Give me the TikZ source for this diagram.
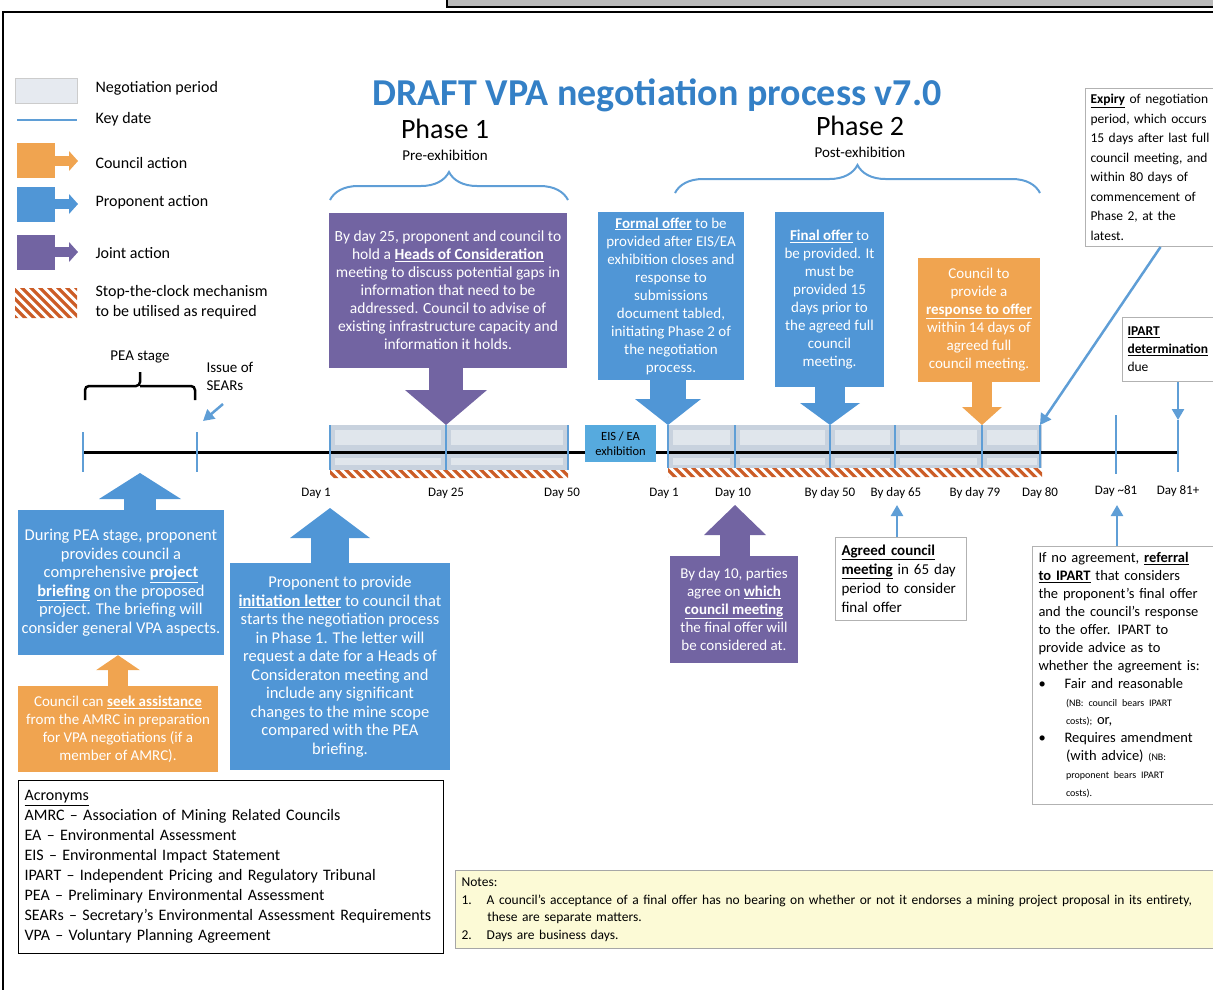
\documentclass[tikz,border=0pt]{standalone}
\usepackage{fontspec}
\setmainfont{Carlito}
\usetikzlibrary{arrows.meta, decorations.pathreplacing}

\definecolor{councilorange}{RGB}{240,164,80}
\definecolor{proponentblue}{RGB}{80,150,214}
\definecolor{jointpurple}{RGB}{114,100,162}
\definecolor{keyblue}{RGB}{95,158,214}
\definecolor{titleblue}{RGB}{52,128,198}
\definecolor{bandgrey}{RGB}{200,210,222}
\definecolor{neggrey}{RGB}{230,234,240}
\definecolor{hatchorange}{RGB}{204,92,38}
\definecolor{notesyellow}{RGB}{252,250,214}
\definecolor{exhibblue}{RGB}{86,170,222}

\tikzset{
  actionbox/.style={text=white, align=center, inner sep=2pt, font=\fontsize{15}{18}\selectfont},
  councilbox/.style={actionbox, fill=councilorange},
  proponentbox/.style={actionbox, fill=proponentblue},
  jointbox/.style={actionbox, fill=jointpurple},
  notebox/.style={draw=gray!60, line width=1pt, fill=white, align=left, inner sep=6pt, anchor=north west, font=\fontsize{15}{19.5}\selectfont},
  keydate/.style={draw=keyblue, line width=2.5pt},
  keyarrow/.style={keyblue, line width=2.5pt, -{Triangle[length=11pt, width=12pt]}},
  blockarrow/.style n args={3}{line width=#1, -{Triangle[length=#2, width=#3, line width=0pt]}},
  daylabel/.style={font=\fontsize{13}{15}\selectfont},
  legendtext/.style={anchor=west, align=left, font=\fontsize{16}{20}\selectfont},
  phasebrace/.style={decorate, decoration={brace, amplitude=#1}}
}

% orange and white stripes for the stop-the-clock bars
\newcommand{\stopclock}[5]{%
  \begin{scope}
    \clip (#1,#2) rectangle (#3,#4);
    \fill[white] (#1,#2) rectangle (#3,#4);
    \foreach \hx in {-40,-31,...,400}
      \fill[hatchorange] ([xshift=\hx pt]#1,#2) -- ++(4.5,0) -- ++(#5,#5) -- ++(-4.5,0) -- cycle;
  \end{scope}}
\newcommand{\nbsmall}{\fontsize{10}{13}\selectfont}

\begin{document}
\begin{tikzpicture}[x=1pt, y=-1pt]
  \useasboundingbox (0,0) rectangle (1213,989);
  % frame
  \filldraw[fill=gray!55, line width=1.2pt] (447,-5) rectangle (1230,7);
  \draw[line width=2pt] (1230,12) -- (3,12) -- (3,995);

  % legend
  \filldraw[fill=neggrey, draw=gray!40] (15,78) rectangle (77,103);
  \draw[keydate] (17,120) -- (77,120);
  \fill[councilorange] (17,143) rectangle (55,178);
  \draw[councilorange, blockarrow={10pt}{9pt}{20pt}] (55,161) -- (78,161);
  \fill[proponentblue] (17,187) rectangle (55,222);
  \draw[proponentblue, blockarrow={10pt}{9pt}{20pt}] (55,204) -- (78,204);
  \fill[jointpurple] (17,235) rectangle (55,270);
  \draw[jointpurple, blockarrow={10pt}{9pt}{20pt}] (55,252) -- (78,252);
  \stopclock{15}{288}{77}{318}{30}
  \node[legendtext] (legneg) at (92,88) {Negotiation period};
  \node[legendtext] (legkey) at (92,119) {Key date};
  \node[legendtext] (legcouncil) at (92,163) {Council action};
  \node[legendtext] (legprop) at (92,202) {Proponent action};
  \node[legendtext] (legjoint) at (92,253) {Joint action};
  \node[legendtext] (legstop) at (92,302) {Stop-the-clock mechanism\\to be utilised as required};

  % title and phases
  \node[font=\fontsize{38}{40}\selectfont\bfseries, text=titleblue] (title) at (657,95) {DRAFT VPA negotiation process v7.0};
  \node[font=\fontsize{28}{30}\selectfont] (phaseone) at (445,129) {Phase 1};
  \node[font=\fontsize{15}{17}\selectfont] (preex) at (445,155) {Pre-exhibition};
  \node[font=\fontsize{28}{30}\selectfont] (phasetwo) at (860,126) {Phase 2};
  \node[font=\fontsize{15}{17}\selectfont] (postex) at (860,152) {Post-exhibition};
  \draw[keyblue, line width=2pt, phasebrace=28pt] (330,200) -- (568,200);
  \draw[keyblue, line width=2pt, phasebrace=28pt] (675,193) -- (1040,193);

  % PEA stage
  \node[font=\fontsize{15}{17}\selectfont] (peastage) at (140,357) {PEA stage};
  \draw[line width=2.5pt, rounded corners=4pt] (85,400) |- (140,386) -- (140,372);
  \draw[line width=2.5pt, rounded corners=4pt] (195,400) |- (140,386);
  \node[anchor=west, align=left, font=\fontsize{15}{18}\selectfont] (sears) at (203,376) {Issue of\\SEARs};
  \coordinate (searsfrom) at (223,404);
  \coordinate (searsto) at (203,421);
  \draw[keyarrow] (searsfrom) -- (searsto);

  % timeline
  \fill[bandgrey] (330,425) rectangle (568,470);
  \fill[bandgrey] (668,425) rectangle (1042,468);
  \foreach \xa/\xb in {330/446, 446/568, 668/735, 735/830, 830/895, 895/982, 982/1042}{
    \fill[white, opacity=0.45] (\xa+5,430) rectangle (\xb-5,445);
    \fill[white, opacity=0.45] (\xa+5,458) rectangle (\xb-5,465);
  }
  \stopclock{330}{470}{568}{478}{8}
  \stopclock{668}{468}{1042}{477}{9}
  \draw[line width=3pt] (83,452) -- (1178,452);
  \foreach \n/\x/\ya/\yb in {pea/83/432/472, sears/197/432/472, pa/330/425/470, pb/446/425/470,
      pc/568/425/470, qa/668/425/468, qb/735/425/468, qc/830/425/468, qd/895/425/468,
      qe/982/425/468, qf/1040/425/468, qg/1116/415/474, qh/1178/420/472}{
    \coordinate (t\n) at (\x,\ya);
    \coordinate (b\n) at (\x,\yb);
    \draw[keydate] (t\n) -- (b\n);
  }
  \node[fill=exhibblue, minimum width=71pt, minimum height=37pt, align=center,
    font=\fontsize{12.5}{15}\selectfont] (eis) at (620.5,443.5) {EIS / EA\\exhibition};

  % day labels
  \node[daylabel] (dayonea) at (316,493) {Day 1};
  \node[daylabel] (daytwentyfive) at (446,493) {Day 25};
  \node[daylabel] (dayfifty) at (562,493) {Day 50};
  \node[daylabel] (dayoneb) at (664,493) {Day 1};
  \node[daylabel] (dayten) at (733,493) {Day 10};
  \node[daylabel] (byfifty) at (830,493) {By day 50};
  \node[daylabel] (bysixtyfive) at (896,493) {By day 65};
  \node[daylabel] (byseventynine) at (975,493) {By day 79};
  \node[daylabel] (dayeighty) at (1040,493) {Day 80};
  \node[daylabel] (dayeightyone) at (1116,491) {Day \textasciitilde81};
  \node[daylabel] (dayeightyplus) at (1178,491) {Day 81+};

  % actions above the timeline
  \node[jointbox, minimum width=238pt, minimum height=155pt, font=\fontsize{15.5}{18}\selectfont] (hoc) at (448,290.5)
    {By day 25, proponent and council to\\hold a \textbf{\underline{Heads of Consideration}}\\meeting to  discuss potential gaps in\\information that need to be\\addressed. Council to advise of\\existing infrastructure capacity and\\information it holds.};
  \node[proponentbox, minimum width=146pt, minimum height=168pt] (formal) at (671,296)
    {\textbf{\underline{Formal offer}} to be\\provided after EIS/EA\\exhibition closes and\\response to\\submissions\\document tabled,\\initiating Phase 2 of\\the negotiation\\process.};
  \node[proponentbox, minimum width=109pt, minimum height=175pt] (final) at (829.5,299.5)
    {\textbf{\underline{Final offer}} to\\be provided. It\\must be\\provided 15\\days prior to\\the agreed full\\council\\meeting.};
  \node[councilbox, minimum width=122pt, minimum height=124pt] (response) at (979,320)
    {Council to\\provide a\\\textbf{\underline{response to offer}}\\within 14 days of\\agreed full\\council meeting.};
  \node[notebox, text width=140pt, minimum height=158pt, inner sep=5pt, font=\fontsize{13.5}{19.5}\selectfont] (expiry) at (1085,88)
    {\textbf{\underline{Expiry}} of negotiation\\period, which occurs\\15 days after last full\\council meeting, and\\within 80 days of\\commencement of\\Phase 2, at the\\latest.};
  \node[notebox, text width=100pt, minimum height=64pt, inner sep=5pt, font=\fontsize{13.5}{18}\selectfont] (ipart) at (1122,317)
    {\textbf{\underline{IPART}}\\\textbf{\underline{determination}}\\due};

  \draw[jointpurple, blockarrow={34pt}{35pt}{82pt}] (hoc.south -| tpb) -- (tpb);
  \draw[proponentblue, blockarrow={36pt}{26pt}{66pt}] (formal.south -| tqa) -- (tqa);
  \draw[proponentblue, blockarrow={30pt}{22pt}{60pt}] (final.south -| tqc) -- (tqc);
  \draw[councilorange, blockarrow={20pt}{18pt}{40pt}] (response.south -| tqe) -- (tqe);
  \draw[keyarrow] (expiry.south) -- (tqf);
  \draw[keyarrow] (ipart.south -| tqh) -- (tqh);

  % actions below the timeline
  \node[proponentbox, minimum width=206pt, minimum height=145pt, font=\fontsize{16.5}{18.5}\selectfont] (pea) at (121,582.5)
    {During PEA stage, proponent\\provides council a\\comprehensive \textbf{\underline{project}}\\\textbf{\underline{briefing}} on the proposed\\project. The briefing  will\\consider general VPA aspects.};
  \node[councilbox, minimum width=200pt, minimum height=86pt] (amrc) at (118,729)
    {Council can \textbf{\underline{seek assistance}}\\from the AMRC in preparation\\for VPA negotiations (if a\\member of AMRC).};
  \node[proponentbox, minimum width=220pt, minimum height=207pt, font=\fontsize{16.5}{18.5}\selectfont] (init) at (340,666.5)
    {Proponent to provide\\\textbf{\underline{initiation letter}} to council that\\starts the negotiation process\\in Phase 1. The letter will\\request a date for a Heads of\\Consideraton meeting and\\include any significant\\changes to the mine scope\\compared with the PEA\\briefing.};
  \node[jointbox, minimum width=128pt, minimum height=107pt] (parties) at (734,609.5)
    {By day 10, parties\\agree on \textbf{\underline{which}}\\\textbf{\underline{council meeting}}\\the final offer will\\be considered at.};
  \node[notebox, text width=119pt, minimum height=83pt, font=\fontsize{15}{19}\selectfont] (agreed) at (835,537)
    {\textbf{\underline{Agreed council}}\\\textbf{\underline{meeting}} in 65 day\\period to consider\\final offer};
  \node[notebox, text width=170pt, minimum height=256pt, font=\fontsize{14.5}{18}\selectfont] (noagree) at (1032,546)
    {If no agreement, \textbf{\underline{referral}}\\\textbf{\underline{to IPART}} that considers\\the proponent's final offer\\and the council's response\\to the offer. IPART to\\provide advice as to\\whether the agreement is:\\
     \textbullet\hspace{1.3em}Fair and reasonable\\\hspace*{1.9em}{\nbsmall (NB: council bears IPART}\\\hspace*{1.9em}{\nbsmall costs);} or,\\
     \textbullet\hspace{1.3em}Requires amendment\\\hspace*{1.9em}(with advice) {\nbsmall (NB:}\\\hspace*{1.9em}{\nbsmall proponent bears IPART}\\\hspace*{1.9em}{\nbsmall costs).}};

  \coordinate (peaup) at (140,473);
  \coordinate (initup) at (330,508);
  \coordinate (partiesup) at (735,505);
  \coordinate (agreedup) at (897,505);
  \coordinate (noagreeup) at (1117,505);
  \draw[proponentblue, blockarrow={32pt}{26pt}{82pt}] (pea.north -| peaup) -- (peaup);
  \draw[councilorange, blockarrow={20pt}{15pt}{44pt}] (amrc.north) -- (pea.south -| amrc.north);
  \draw[proponentblue, blockarrow={38pt}{30pt}{80pt}] (init.north -| initup) -- (initup);
  \draw[jointpurple, blockarrow={30pt}{30pt}{62pt}] (parties.north -| partiesup) -- (partiesup);
  \draw[keyarrow] (agreed.north -| agreedup) -- (agreedup);
  \draw[keyarrow] (noagree.north -| noagreeup) -- (noagreeup);

  % acronyms and notes
  \node[draw=black, line width=1.2pt, anchor=north west, align=left, text width=413pt,
    minimum height=173pt, inner sep=6pt, font=\fontsize{16}{20}\selectfont] (acronyms) at (18,780)
    {\underline{Acronyms}\\AMRC -- Association of Mining Related Councils\\EA -- Environmental Assessment\\EIS -- Environmental  Impact Statement\\IPART -- Independent Pricing and Regulatory Tribunal\\PEA -- Preliminary Environmental Assessment\\SEARs -- Secretary's Environmental Assessment Requirements\\VPA -- Voluntary Planning Agreement};
  \node[draw=gray!70, line width=1.2pt, fill=notesyellow, anchor=north west, align=left, text width=880pt,
    minimum height=78pt, inner sep=6pt, font=\fontsize{13.5}{17.5}\selectfont] (notes) at (455,870)
    {Notes:\\1.\hspace{1.1em}A council's acceptance of a final offer has no bearing on whether or not it endorses a mining project proposal in its entirety,\\\hspace*{1.9em}these are separate matters.\\2.\hspace{1.1em}Days are business days.};
\end{tikzpicture}
\end{document}
